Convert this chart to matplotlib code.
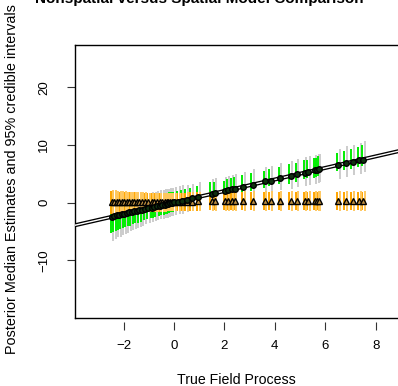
import matplotlib
matplotlib.use("Agg")
import matplotlib.pyplot as plt

plt.rcParams['font.family'] = ['Liberation Sans', 'DejaVu Sans']

# true field values at the observation sites
true_field = [-2.47, -2.37, -2.27, -2.17, -2.08, -1.97, -1.88, -1.77, -1.68, -1.57,
              -1.48, -1.38, -1.28, -1.15, -1.02, -0.88, -0.78, -0.69, -0.56, -0.46,
              -0.36, -0.29, -0.23, -0.16, -0.09, 0.01, 0.17, 0.31, 0.50, 0.70, 0.96,
              1.49, 1.63, 2.02, 2.15, 2.29, 2.42, 2.75, 3.12, 3.61, 3.83, 4.21, 4.63,
              4.87, 5.20, 5.33, 5.59, 5.69, 5.75, 6.52, 6.81, 7.09, 7.35, 7.51]

# spatial model: posterior medians and two sets of 95% intervals
sp_median = [-2.45, -2.33, -2.21, -2.12, -2.02, -1.93, -1.83, -1.72, -1.64, -1.53,
             -1.44, -1.34, -1.24, -1.12, -0.99, -0.86, -0.75, -0.66, -0.54, -0.44,
             -0.34, -0.27, -0.21, -0.14, -0.07, 0.02, 0.18, 0.32, 0.50, 0.71, 0.95,
             1.52, 1.60, 2.05, 2.12, 2.33, 2.40, 2.78, 3.08, 3.66, 3.80, 4.25, 4.60,
             4.92, 5.17, 5.36, 5.62, 5.66, 5.80, 6.48, 6.85, 7.05, 7.38, 7.46]
sp_lo = [-5.3, -5.1, -4.9, -4.8, -4.6, -4.4, -4.3, -4.1, -4.0, -3.8,
         -3.6, -3.5, -3.3, -3.1, -2.9, -2.7, -2.6, -2.5, -2.3, -2.2,
         -2.1, -2.0, -1.9, -1.8, -1.7, -1.6, -1.4, -1.3, -1.1, -0.9, -0.6,
         0.4, 0.6, 1.1, 1.2, 1.3, 1.4, 1.8, 2.0, 2.6, 2.8, 3.2, 3.3,
         3.6, 4.0, 4.2, 4.3, 4.5, 4.6, 5.4, 5.6, 5.9, 6.1, 6.4]
sp_hi = [-0.3, -0.2, -0.1, 0.0, 0.1, 0.2, 0.3, 0.4, 0.4, 0.5,
         0.6, 0.7, 0.8, 0.9, 1.0, 1.1, 1.2, 1.3, 1.4, 1.5,
         1.6, 1.6, 1.7, 1.8, 1.8, 1.9, 2.0, 2.2, 2.4, 2.6, 2.8,
         3.5, 3.6, 3.8, 4.0, 4.2, 4.4, 4.7, 5.1, 5.5, 5.8, 6.2, 6.6,
         6.9, 7.3, 7.4, 7.7, 7.8, 8.0, 8.6, 9.0, 9.2, 9.6, 9.9]
sp2_lo = [-6.6, -6.3, -6.0, -5.9, -5.6, -5.4, -5.2, -5.0, -4.8, -4.6,
          -4.4, -4.2, -4.0, -3.8, -3.6, -3.4, -3.2, -3.1, -2.9, -2.8,
          -2.7, -2.6, -2.5, -2.4, -2.3, -2.2, -2.0, -1.9, -1.7, -1.5, -1.3,
          -0.6, -0.4, 0.1, 0.2, 0.3, 0.5, 0.8, 1.0, 1.6, 1.6, 2.1, 2.4,
          2.7, 2.9, 3.1, 3.3, 3.4, 3.6, 4.1, 4.5, 4.7, 5.0, 5.3]
sp2_hi = [0.4, 0.5, 0.6, 0.7, 0.8, 0.9, 1.0, 1.1, 1.2, 1.3,
          1.3, 1.4, 1.5, 1.6, 1.7, 1.8, 1.9, 2.0, 2.1, 2.2,
          2.3, 2.4, 2.4, 2.5, 2.6, 2.7, 2.8, 3.0, 3.1, 3.3, 3.5,
          4.1, 4.2, 4.5, 4.6, 4.8, 5.0, 5.3, 5.8, 6.2, 6.4, 6.9, 7.2,
          7.5, 7.9, 8.0, 8.3, 8.4, 8.5, 9.3, 9.8, 10.0, 10.4, 10.6]

# non-spatial model: posterior medians and two sets of 95% intervals
ns_median = [0.05, 0.05, 0.06, 0.05, 0.06, 0.06, 0.07, 0.06, 0.07, 0.07,
             0.08, 0.08, 0.08, 0.09, 0.09, 0.10, 0.10, 0.11, 0.11, 0.12,
             0.12, 0.13, 0.13, 0.13, 0.14, 0.14, 0.15, 0.16, 0.17, 0.18, 0.19,
             0.22, 0.22, 0.24, 0.24, 0.25, 0.25, 0.26, 0.27, 0.28, 0.28, 0.29, 0.30,
             0.30, 0.31, 0.31, 0.32, 0.32, 0.32, 0.33, 0.34, 0.34, 0.35, 0.35]
ns_lo = [-1.9, -1.9, -1.9, -1.9, -1.8, -1.8, -1.8, -1.8, -1.8, -1.7,
         -1.7, -1.7, -1.7, -1.7, -1.6, -1.6, -1.6, -1.6, -1.6, -1.5,
         -1.5, -1.5, -1.5, -1.5, -1.5, -1.4, -1.4, -1.4, -1.4, -1.4, -1.4,
         -1.3, -1.3, -1.3, -1.3, -1.3, -1.3, -1.3, -1.3, -1.3, -1.3, -1.3, -1.3,
         -1.3, -1.3, -1.3, -1.3, -1.3, -1.3, -1.3, -1.3, -1.3, -1.3, -1.3]
ns_hi = [2.0, 2.0, 2.0, 1.9, 1.9, 1.9, 1.9, 1.8, 1.8, 1.8,
         1.8, 1.7, 1.7, 1.7, 1.7, 1.6, 1.6, 1.6, 1.6, 1.5,
         1.5, 1.5, 1.5, 1.5, 1.5, 1.6, 1.6, 1.7, 1.7, 1.8, 1.8,
         1.9, 1.9, 1.9, 1.9, 1.9, 1.9, 1.9, 1.9, 1.9, 1.9, 1.9, 1.9,
         1.9, 1.9, 1.9, 1.9, 1.9, 1.9, 1.9, 1.9, 1.9, 1.9, 1.9]
ns2_lo = [-2.0, -2.0, -1.9, -1.9, -1.9, -1.9, -1.8, -1.8, -1.8, -1.8,
          -1.8, -1.7, -1.7, -1.7, -1.7, -1.7, -1.6, -1.6, -1.6, -1.6,
          -1.6, -1.5, -1.5, -1.5, -1.5, -1.5, -1.5, -1.4, -1.4, -1.4, -1.4,
          -1.4, -1.4, -1.4, -1.4, -1.4, -1.4, -1.4, -1.4, -1.4, -1.4, -1.4, -1.4,
          -1.4, -1.4, -1.4, -1.4, -1.4, -1.4, -1.4, -1.4, -1.4, -1.4, -1.4]
ns2_hi = [2.1, 2.1, 2.0, 2.0, 2.0, 2.0, 1.9, 1.9, 1.9, 1.9,
          1.8, 1.8, 1.8, 1.8, 1.7, 1.7, 1.7, 1.7, 1.6, 1.6,
          1.6, 1.6, 1.6, 1.6, 1.6, 1.7, 1.7, 1.7, 1.8, 1.8, 1.9,
          2.0, 2.0, 2.0, 2.0, 2.0, 2.0, 2.0, 2.0, 2.0, 2.0, 2.0, 2.0,
          2.0, 2.0, 2.0, 2.0, 2.0, 2.0, 2.0, 2.0, 2.0, 2.0, 2.0]

x_ticks = [-2, 0, 2, 4, 6, 8]
y_ticks = [-10, 0, 10, 20]

fig = plt.figure(figsize=(3.98, 3.86), dpi=100)
ax = fig.add_axes([75 / 398, 68 / 386, 340 / 398, 273 / 386])

xa = [v - 0.05 for v in true_field]
xb = [v + 0.05 for v in true_field]
ax.vlines(xb, sp2_lo, sp2_hi, color='#cccccc', lw=1.4, zorder=2)
ax.vlines(xa, sp_lo, sp_hi, color='#00ee00', lw=1.4, zorder=2)
ax.vlines(xa, ns_lo, ns_hi, color='#ffa500', lw=1.4, zorder=3)
ax.vlines(xb, ns2_lo, ns2_hi, color='#ffc860', lw=1.4, zorder=3)

# y = x reference line, drawn as a double line
ax.axline((0, 0), slope=1, color='black', lw=2.9, zorder=4)
ax.axline((0, 0), slope=1, color='white', lw=1.0, zorder=4)

ax.plot(true_field, ns_median, ls='none', marker='^', ms=4.5, mfc='#c09040',
        mec='black', mew=1.0, zorder=5)
ax.plot(true_field, sp_median, ls='none', marker='o', ms=4.0, mfc='#103010',
        mec='black', mew=1.0, zorder=5)

ax.set_xlim(-3.93, 9.56)
ax.set_ylim(-20.0, 27.3)
ax.set_xticks(x_ticks)
ax.set_xticklabels(['\u22122', '0', '2', '4', '6', '8'])
ax.set_yticks(y_ticks)
ax.set_yticklabels(['\u221210', '0', '10', '20'], rotation=90, va='center')
ax.tick_params(axis='both', length=6, width=0.8, labelsize=9.5, color='#333333')
ax.tick_params(axis='x', pad=7)
ax.tick_params(axis='y', pad=12)

for s in ax.spines.values():
    s.set_linewidth(1.0)
ax.spines['bottom'].set_position(('outward', 3))
ax.spines['bottom'].set_color('none')
ax.plot([0, 1], [0, 0], transform=ax.transAxes, color='black', lw=1.0, clip_on=False, zorder=6)

fig.text(0.5, 383 / 386, 'Nonspatial versus Spatial Model Comparison', ha='center',
         va='baseline', fontsize=11, fontweight='bold')
fig.text(236 / 398, 6 / 386, 'True Field Process', ha='center', va='center', fontsize=10.2)
fig.text(12 / 398, 207 / 386, 'Posterior Median Estimates and 95% credible intervals',
         ha='center', va='center', rotation=90, fontsize=10.4)

fig.savefig('out.png', dpi=100)
